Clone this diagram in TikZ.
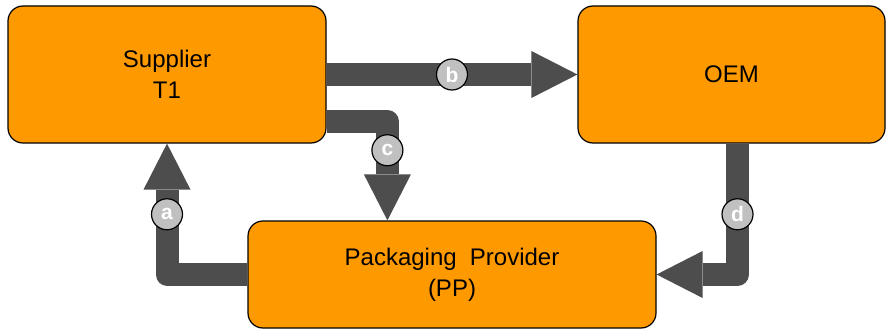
\documentclass[tikz,border=0pt]{standalone}
\usepackage{fontspec}
\setmainfont{Liberation Sans}
\usetikzlibrary{positioning}
\usetikzlibrary{arrows.meta}

\definecolor{boxorange}{HTML}{FF9900}
\definecolor{flowgray}{HTML}{4D4D4D}
\definecolor{taggray}{HTML}{C0C0C0}

\tikzset{
  party/.style={draw=black, line width=1.2pt, fill=boxorange, rounded corners=15pt,
    align=center, inner sep=0pt, font=\fontsize{24}{31}\selectfont},
  flow/.style={draw=flowgray, line width=23pt, line join=round,
    -{Triangle[width=47pt,length=46pt,line width=0pt]}},
  tag/.style={circle, draw=black, line width=1.2pt, fill=taggray, minimum size=31pt,
    inner sep=0pt, text=white, font=\fontsize{21}{21}\bfseries\selectfont}
}

\begin{document}
\begin{tikzpicture}[x=1pt,y=-1pt]
        \useasboundingbox (0,0) rectangle (886,329);

        % Define the coordinates of the boxes
        \coordinate (s) at (167,74.5);
        \coordinate (o) at (731.5,74.5);
        \coordinate (p) at (452,274.5);

        % Draw the boxes
        \node[party, minimum width=318pt, minimum height=137pt] (sup) at (s) {Supplier\\T1};
        \node[party, minimum width=307pt, minimum height=137pt] (oem) at (o) {OEM};
        \node[party, minimum width=408pt, minimum height=107pt] (pp) at (p) {Packaging\hspace{0.55em}Provider\\(PP)};

        % Draw the flows
        \draw[flow] (pp.west) -| (sup.south) node[tag, pos=0.73] (ta) {a};
        \draw[flow] (sup.east) -- (oem.west) node[tag, pos=0.5] (tb) {b};
        \draw[flow] ([yshift=22pt]sup.south east) -| ([xshift=140pt]pp.north west) node[tag, pos=0.645] (tc) {c};
        \draw[flow] ([xshift=6pt]oem.south) |- (pp.east) node[tag, pos=0.27] (td) {d};
      \end{tikzpicture}
\end{document}
